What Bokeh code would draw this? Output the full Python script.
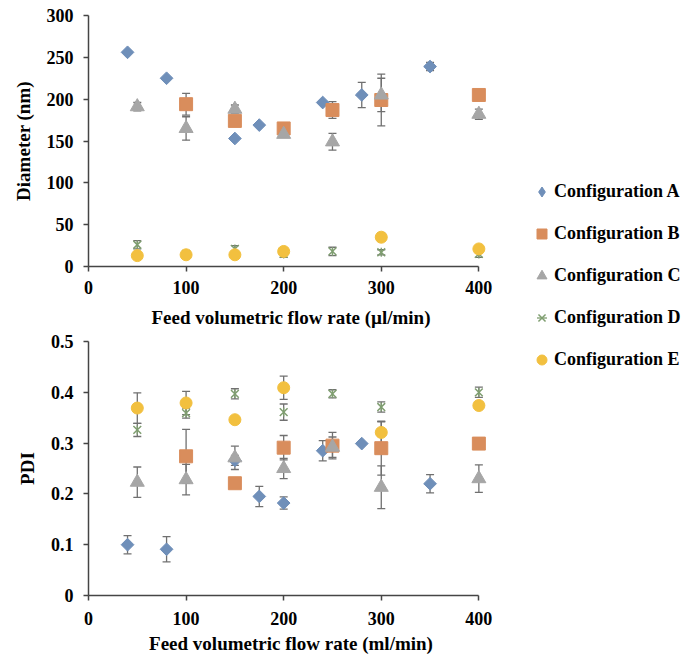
import math
from bokeh.plotting import figure
from bokeh.models import (ColumnDataSource, Whisker, TeeHead, Range1d, Legend, LegendItem,
                          FixedTicker, CustomJSTickFormatter)
from bokeh.layouts import row, column
from bokeh.embed import file_html
from bokeh.resources import INLINE

series_names = ["Configuration A", "Configuration B", "Configuration C",
                "Configuration D", "Configuration E"]

# ---- Diameter (nm) vs feed flow rate (µl/min) ----
diam_x_A = [40, 80, 150, 175, 240, 280, 350]
diam_y_A = [256, 225, 153, 169, 196, 205, 239]
diam_e_A = [0, 0, 0, 0, 0, 15, 5]

diam_x_B = [100, 150, 200, 250, 300, 400]
diam_y_B = [194, 174, 165, 187, 199, 205]
diam_e_B = [13, 5, 0, 10, 31, 0]

diam_x_C = [50, 100, 150, 200, 250, 300, 400]
diam_y_C = [191, 165, 188, 158, 149, 205, 182]
diam_e_C = [5, 14, 5, 3, 10, 20, 6]

diam_x_D = [50, 100, 150, 200, 250, 300, 400]
diam_y_D = [26, 15, 21, 15, 18, 17, 15]
diam_e_D = [5, 3, 4, 4, 5, 3, 4]

diam_x_E = [50, 100, 150, 200, 300, 400]
diam_y_E = [13, 14, 14, 18, 35, 21]
diam_e_E = [0, 0, 0, 0, 5, 0]

# ---- PDI vs feed flow rate (ml/min) ----
pdi_x_A = [40, 80, 150, 175, 200, 240, 280, 350]
pdi_y_A = [0.100, 0.091, 0.266, 0.195, 0.182, 0.285, 0.299, 0.220]
pdi_e_A = [0.018, 0.025, 0.010, 0.020, 0.012, 0.020, 0.0, 0.018]

pdi_x_B = [100, 150, 200, 250, 300, 400]
pdi_y_B = [0.274, 0.221, 0.291, 0.295, 0.290, 0.299]
pdi_e_B = [0.053, 0.010, 0.024, 0.026, 0.053, 0.0]

pdi_x_C = [50, 100, 150, 200, 250, 300, 400]
pdi_y_C = [0.223, 0.228, 0.271, 0.250, 0.292, 0.213, 0.230]
pdi_e_C = [0.030, 0.030, 0.023, 0.020, 0.020, 0.042, 0.027]

pdi_x_D = [50, 100, 150, 200, 250, 300, 400]
pdi_y_D = [0.326, 0.359, 0.397, 0.361, 0.397, 0.371, 0.400]
pdi_e_D = [0.013, 0.010, 0.010, 0.016, 0.008, 0.010, 0.010]

pdi_x_E = [50, 100, 150, 200, 300, 400]
pdi_y_E = [0.369, 0.379, 0.346, 0.409, 0.321, 0.374]
pdi_e_E = [0.030, 0.023, 0.0, 0.023, 0.021, 0.0]

x_ticks = [0, 100, 200, 300, 400]
diam_ticks = [0, 50, 100, 150, 200, 250, 300]
pdi_ticks = [0, 0.1, 0.2, 0.3, 0.4, 0.5]

diam_data = [(diam_x_A, diam_y_A, diam_e_A), (diam_x_B, diam_y_B, diam_e_B),
             (diam_x_C, diam_y_C, diam_e_C), (diam_x_D, diam_y_D, diam_e_D),
             (diam_x_E, diam_y_E, diam_e_E)]
pdi_data = [(pdi_x_A, pdi_y_A, pdi_e_A), (pdi_x_B, pdi_y_B, pdi_e_B),
            (pdi_x_C, pdi_y_C, pdi_e_C), (pdi_x_D, pdi_y_D, pdi_e_D),
            (pdi_x_E, pdi_y_E, pdi_e_E)]

colors = ["#6f8fb9", "#d98d5c", "#a6a6a6", "#7f9e70", "#f2c03f"]
FONT = "Liberation Serif"
AXIS_COLOR = "#454545"
ERR_COLOR = "#707070"


def make_source(x, y, e):
    return ColumnDataSource(dict(x=x, y=y,
                                 upper=[a + b for a, b in zip(y, e)],
                                 lower=[a - b for a, b in zip(y, e)]))


def add_markers(p, i, src, visible=True, legend=False):
    c = colors[i]
    rs = []
    if i == 0:
        if legend:
            rs.append(p.scatter("x", "y", source=src, marker="diamond", size=12,
                                fill_color=c, line_color=c, visible=visible))
        else:
            rs.append(p.scatter("x", "y", source=src, marker="square", angle=math.pi / 4,
                                size=9, fill_color=c, line_color=c, visible=visible))
    elif i == 1:
        rs.append(p.scatter("x", "y", source=src, marker="square", size=13,
                            fill_color=c, line_color=c, visible=visible))
    elif i == 2:
        rs.append(p.scatter("x", "y", source=src, marker="triangle", size=14,
                            fill_color=c, line_color=c, visible=visible))
    elif i == 3:
        rs.append(p.scatter("x", "y", source=src, marker="x", size=11,
                            line_color=c, line_width=1.5, visible=visible))
        rs.append(p.scatter("x", "y", source=src, marker="dash", angle=math.pi / 2,
                            size=9, line_color=c, line_width=1.3, visible=visible))
    else:
        rs.append(p.scatter("x", "y", source=src, marker="circle", size=12,
                            fill_color=c, line_color=c, visible=visible))
    return rs


def make_fig(height, ymax, yticks, ylabel, xlabel, top_b, bottom_b, data, fmt_code,
             tick_standoff, title_standoff):
    p = figure(width=500, height=height, x_range=Range1d(0, 415), y_range=Range1d(0, ymax),
               output_backend="svg", toolbar_location=None,
               min_border_left=88, min_border_right=7, min_border_top=top_b,
               min_border_bottom=bottom_b, outline_line_color=None)
    p.grid.visible = False
    p.xaxis.bounds = (0, 400)
    p.xaxis.ticker = FixedTicker(ticks=x_ticks)
    p.yaxis.ticker = FixedTicker(ticks=yticks)
    p.yaxis.formatter = CustomJSTickFormatter(code=fmt_code)
    for ax in (p.xaxis[0], p.yaxis[0]):
        ax.axis_line_color = AXIS_COLOR
        ax.axis_line_width = 1.5
        ax.major_tick_line_color = AXIS_COLOR
        ax.major_tick_line_width = 1.5
        ax.major_tick_out = 5
        ax.major_tick_in = 0
        ax.minor_tick_line_color = None
        ax.major_label_text_font = FONT
        ax.major_label_text_font_style = "bold"
        ax.major_label_text_font_size = "18px"
        ax.major_label_text_color = "black"
        ax.axis_label_text_font = FONT
        ax.axis_label_text_font_style = "bold"
        ax.axis_label_text_font_size = "19px"
        ax.axis_label_text_color = "black"
    p.xaxis.axis_label = xlabel
    p.yaxis.axis_label = ylabel
    p.xaxis.major_label_standoff = tick_standoff
    p.xaxis.axis_label_standoff = title_standoff
    p.yaxis.major_label_standoff = 10
    p.yaxis.axis_label_standoff = 10
    srcs = []
    for i, (x, y, e) in enumerate(data):
        src = make_source(x, y, e)
        srcs.append(src)
        p.add_layout(Whisker(base="x", upper="upper", lower="lower", source=src,
                             line_color=ERR_COLOR, line_width=1.3, level="underlay",
                             upper_head=TeeHead(size=8, line_color=ERR_COLOR, line_width=1.3),
                             lower_head=TeeHead(size=8, line_color=ERR_COLOR, line_width=1.3)))
    for i, src in enumerate(srcs):
        add_markers(p, i, src)
    return p, srcs


top, top_srcs = make_fig(330, 300, diam_ticks, "Diameter (nm)",
                         "Feed volumetric flow rate (\u00b5l/min)", 15, 64, diam_data,
                         "return String(tick);", 9, 10)
bottom, _ = make_fig(333, 0.5, pdi_ticks, "PDI",
                     "Feed volumetric flow rate (ml/min)", 11, 68, pdi_data,
                     "return String(Math.round(tick*10)/10);", 11, 5)

lf = figure(width=192, height=663, x_range=Range1d(0, 1), y_range=Range1d(0, 1),
            x_axis_location=None, y_axis_location=None, min_border=0,
            outline_line_color=None, toolbar_location=None, output_backend="svg")
lf.grid.visible = False
items = []
for i, src in enumerate(top_srcs):
    rs = add_markers(lf, i, src, visible=False, legend=True)
    items.append(LegendItem(label=series_names[i], renderers=rs))
legend = Legend(items=items, location=(29, 291), orientation="vertical",
                glyph_width=25, glyph_height=25, label_standoff=-8, spacing=17,
                padding=0, margin=0, border_line_color=None, background_fill_alpha=0,
                label_text_font=FONT, label_text_font_style="bold",
                label_text_font_size="18px", label_text_color="black",
                click_policy="none")
lf.add_layout(legend)

layout = row(column(top, bottom), lf)
open("out.html", "w").write(file_html(layout, INLINE))
